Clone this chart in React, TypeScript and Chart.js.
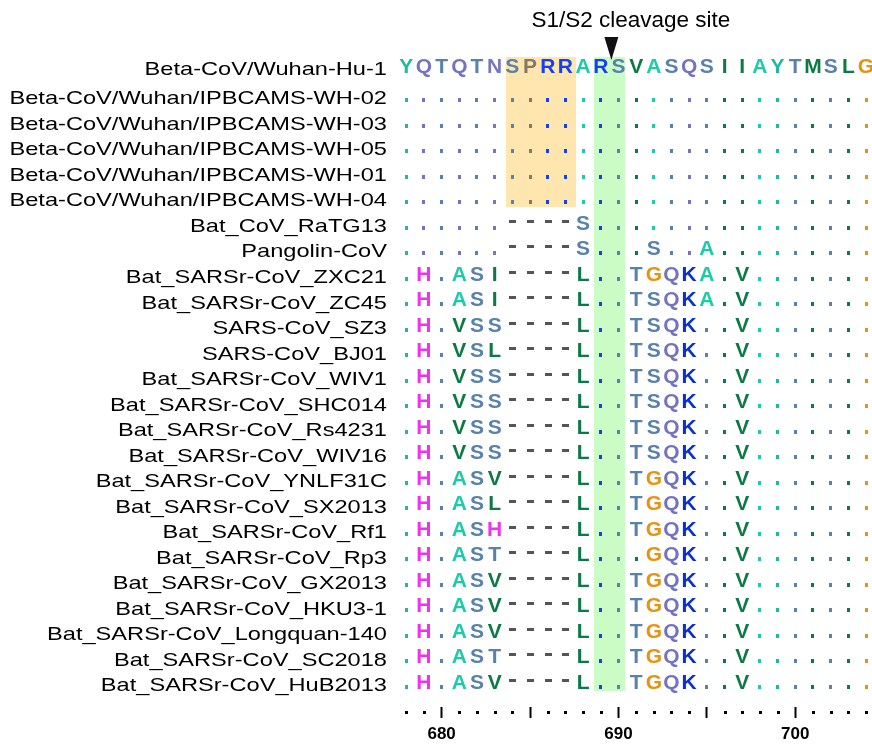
import React, { useEffect, useRef } from "react";
import { Chart, registerables } from "chart.js";

Chart.register(...registerables);

const FONT = "'Liberation Sans', Arial, Helvetica, sans-serif";

// ---- data ----
const SEQUENCE_NAMES = [
  "Beta-CoV/Wuhan-Hu-1",
  "Beta-CoV/Wuhan/IPBCAMS-WH-02",
  "Beta-CoV/Wuhan/IPBCAMS-WH-03",
  "Beta-CoV/Wuhan/IPBCAMS-WH-05",
  "Beta-CoV/Wuhan/IPBCAMS-WH-01",
  "Beta-CoV/Wuhan/IPBCAMS-WH-04",
  "Bat_CoV_RaTG13",
  "Pangolin-CoV",
  "Bat_SARSr-CoV_ZXC21",
  "Bat_SARSr-CoV_ZC45",
  "SARS-CoV_SZ3",
  "SARS-CoV_BJ01",
  "Bat_SARSr-CoV_WIV1",
  "Bat_SARSr-CoV_SHC014",
  "Bat_SARSr-CoV_Rs4231",
  "Bat_SARSr-CoV_WIV16",
  "Bat_SARSr-CoV_YNLF31C",
  "Bat_SARSr-CoV_SX2013",
  "Bat_SARSr-CoV_Rf1",
  "Bat_SARSr-CoV_Rp3",
  "Bat_SARSr-CoV_GX2013",
  "Bat_SARSr-CoV_HKU3-1",
  "Bat_SARSr-CoV_Longquan-140",
  "Bat_SARSr-CoV_SC2018",
  "Bat_SARSr-CoV_HuB2013",
];

const REFERENCE_SEQ = "YQTQTNSPRRARSVASQSIIAYTMSLG";

const ALIGNED_SEQS = [
  "...........................",
  "...........................",
  "...........................",
  "...........................",
  "...........................",
  "......----S................",
  "......----S...S..A.........",
  ".H.ASI----L..TGQKA.V.......",
  ".H.ASI----L..TSQKA.V.......",
  ".H.VSS----L..TSQK..V.......",
  ".H.VSL----L..TSQK..V.......",
  ".H.VSS----L..TSQK..V.......",
  ".H.VSS----L..TSQK..V.......",
  ".H.VSS----L..TSQK..V.......",
  ".H.VSS----L..TSQK..V.......",
  ".H.ASV----L..TGQK..V.......",
  ".H.ASL----L..TGQK..V.......",
  ".H.ASH----L..TGQK..V.......",
  ".H.AST----L...GQK..V.......",
  ".H.ASV----L..TGQK..V.......",
  ".H.ASV----L..TGQK..V.......",
  ".H.ASV----L..TGQK..V.......",
  ".H.AST----L..TGQK..V.......",
  ".H.ASV----L..TGQK..V.......",
];

const START_POSITION = 678;
const TICK_LABELS = [680, 690, 700];
const MAJOR_TICKS = [680, 685, 690, 695, 700];
const CLEAVAGE_LABEL = "S1/S2 cleavage site";
const CLEAVAGE_SITE = 689.6;
const HIGHLIGHT_COLUMNS_ORANGE = [684, 687];
const HIGHLIGHT_COLUMNS_GREEN = [689, 690];

// ---- styles ----
const RESIDUE_COLORS: Record<string, string> = {
  A: "#1ccba8",
  Y: "#22b8a0",
  Q: "#7373c0",
  N: "#7676c2",
  T: "#5881ad",
  S: "#5881ad",
  P: "#857868",
  R: "#1440f5",
  K: "#0a30d0",
  V: "#0b7a45",
  I: "#0b7a45",
  M: "#0b7a45",
  L: "#0b7a45",
  G: "#e8920e",
  H: "#ee33ee",
  "-": "#555555",
};

const REF_ROW_VALUE = -1.15; // reference row sits a bit further above the rest
const rowValue = (i: number) => (i === 0 ? REF_ROW_VALUE : i - 1);
const LABEL_STRETCH = 1.27;
const LETTER_BASELINE_SHIFT = 3;

const ROWS = [REFERENCE_SEQ, ...ALIGNED_SEQS];
const POSITIONS = Array.from(REFERENCE_SEQ).map((_, i) => START_POSITION + i);

const CELLS: any[] = [];
ROWS.forEach((seq, r) => {
  Array.from(seq).forEach((ch, c) => {
    const key = ch === "." ? REFERENCE_SEQ[c] : ch;
    CELLS.push({ x: START_POSITION + c, y: rowValue(r), ch, color: RESIDUE_COLORS[key] || "#000" });
  });
});

const BOXES = [
  { cols: HIGHLIGHT_COLUMNS_ORANGE, padL: 0.38, padR: 0.62, lastRow: 5, color: "#fee6ae" },
  { cols: HIGHLIGHT_COLUMNS_GREEN, padL: 0.38, padR: 0.38, lastRow: ROWS.length - 1, color: "#ccfcc6" },
];

const alignmentPlugin = {
  id: "alignmentPlugin",
  beforeDraw(chart: any) {
    const ys: any = chart.scales.y;
    if (ys && !ys.__stretched) {
      const orig = ys.drawLabels.bind(ys);
      ys.drawLabels = (area: any) => {
        const ctx = chart.ctx;
        const xr = ys.right - ys.options.ticks.padding;
        ctx.save();
        ctx.translate(xr, 0);
        ctx.scale(LABEL_STRETCH, 1);
        ctx.translate(-xr, 0);
        orig(area);
        ctx.restore();
      };
      ys.__stretched = true;
    }
  },
  beforeDatasetsDraw(chart: any) {
    const ctx = chart.ctx;
    const xs = chart.scales.x;
    const ys = chart.scales.y;
    ctx.save();
    BOXES.forEach((b) => {
      const x0 = xs.getPixelForValue(b.cols[0] - b.padL);
      const x1 = xs.getPixelForValue(b.cols[1] + b.padR);
      const y0 = ys.getPixelForValue(rowValue(0) - 0.5);
      const y1 = ys.getPixelForValue(rowValue(b.lastRow) + 0.21);
      ctx.fillStyle = b.color;
      ctx.fillRect(Math.round(x0), Math.round(y0), Math.round(x1) - Math.round(x0), Math.round(y1) - Math.round(y0));
    });
    ctx.restore();
  },
  afterDatasetsDraw(chart: any) {
    const ctx = chart.ctx;
    const xs = chart.scales.x;
    const ys = chart.scales.y;
    const meta = chart.getDatasetMeta(0);
    const data = chart.data.datasets[0].data as any[];
    ctx.save();
    ctx.font = `bold 21px ${FONT}`;
    ctx.textAlign = "center";
    ctx.textBaseline = "alphabetic";
    meta.data.forEach((el: any, i: number) => {
      const d = data[i];
      const base = el.y + LETTER_BASELINE_SHIFT;
      ctx.fillStyle = d.color;
      if (d.ch === ".") {
        ctx.fillRect(Math.round(el.x - 1.5), Math.round(base) - 4, 3, 4);
      } else if (d.ch === "-") {
        ctx.fillRect(Math.round(el.x - 3), Math.round(base) - 10, 7, 3);
      } else {
        ctx.fillText(d.ch, el.x, base);
      }
    });
    // minor axis dots
    ctx.fillStyle = "#000";
    POSITIONS.forEach((v) => {
      if (MAJOR_TICKS.includes(v)) return;
      const px = xs.getPixelForValue(v);
      ctx.fillRect(Math.round(px) - 1, xs.top + 4, 3, 3);
    });
    // cleavage annotation
    const refPx = ys.getPixelForValue(rowValue(0));
    const ax = xs.getPixelForValue(CLEAVAGE_SITE);
    ctx.fillStyle = "#111";
    ctx.beginPath();
    ctx.moveTo(ax - 7, refPx - 33);
    ctx.lineTo(ax + 7, refPx - 33);
    ctx.lineTo(ax, refPx - 10);
    ctx.closePath();
    ctx.fill();
    ctx.font = `22.5px ${FONT}`;
    ctx.textBaseline = "middle";
    ctx.fillStyle = "#000";
    ctx.fillText(CLEAVAGE_LABEL, xs.getPixelForValue(CLEAVAGE_SITE + 1.1), refPx - 49.5);
    ctx.restore();
  },
};

export default function App() {
  const ref = useRef<HTMLCanvasElement>(null);
  useEffect(() => {
    if (!ref.current) return;
    const chart = new Chart(ref.current, {
      type: "scatter",
      data: {
        datasets: [
          {
            data: CELLS,
            pointRadius: 0,
            pointHoverRadius: 0,
            showLine: false,
          },
        ],
      },
      options: {
        animation: false,
        responsive: false,
        maintainAspectRatio: false,
        devicePixelRatio: 1,
        events: [],
        layout: { padding: { top: 20, left: 0, right: 0, bottom: 0 } },
        plugins: {
          legend: { display: false },
          tooltip: { enabled: false },
          title: { display: false },
        },
        scales: {
          x: {
            type: "linear",
            position: "bottom",
            min: 677.08,
            max: 704.31,
            afterBuildTicks: (s: any) => {
              s.ticks = POSITIONS.map((v) => ({ value: v }));
            },
            afterFit: (s: any) => {
              s.height = 38;
            },
            grid: {
              display: true,
              drawOnChartArea: false,
              drawTicks: true,
              tickLength: 11,
              tickWidth: 2,
              tickColor: (c: any) =>
                c.tick && MAJOR_TICKS.includes(c.tick.value) ? "#000" : "rgba(0,0,0,0)",
            },
            border: { display: false },
            ticks: {
              autoSkip: false,
              maxRotation: 0,
              padding: 6,
              color: "#000",
              font: { family: FONT, size: 17, weight: "bold" },
              callback: (v: any) => (TICK_LABELS.includes(Number(v)) ? String(v) : ""),
            },
          },
          y: {
            type: "linear",
            reverse: true,
            min: -3.109,
            max: 23.823,
            afterBuildTicks: (s: any) => {
              s.ticks = SEQUENCE_NAMES.map((_, i) => ({ value: rowValue(i) }));
            },
            afterFit: (s: any) => {
              s.width = 390;
            },
            grid: { display: false, drawTicks: false },
            border: { display: false },
            ticks: {
              autoSkip: false,
              padding: 3,
              color: "#000",
              font: { family: FONT, size: 18.6 },
              callback: (_v: any, i: number) => SEQUENCE_NAMES[i],
            },
          },
        },
      } as any,
      plugins: [alignmentPlugin],
    });
    return () => chart.destroy();
  }, []);
  return (
    <div style={{ position: "absolute", left: 0, top: 0, width: 872, height: 745, background: "#fff" }}>
      <canvas ref={ref} width={872} height={745} style={{ display: "block", width: 872, height: 745 }} />
    </div>
  );
}
